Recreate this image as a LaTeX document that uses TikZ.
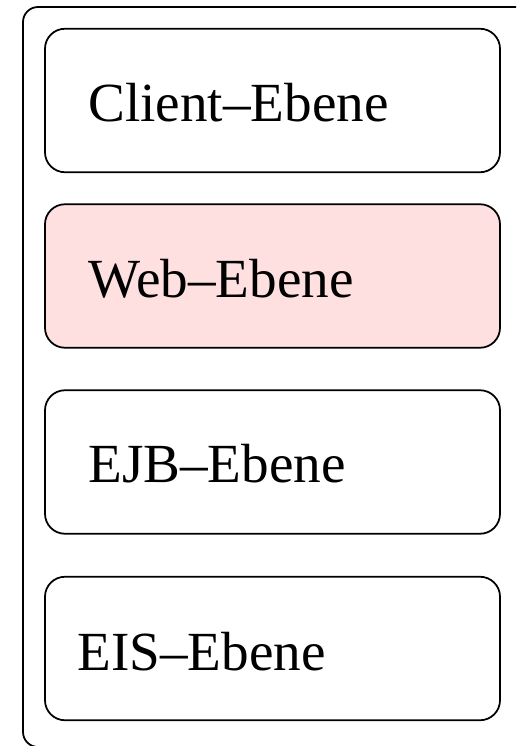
\documentclass[tikz,border=0pt]{standalone}
\usepackage{fontspec}
\setmainfont{Liberation Serif}
\definecolor{webrosa}{RGB}{255,224,224}
\tikzset{
  ebene/.style={draw=black, line width=1pt, rounded corners=0.4cm, minimum width=91mm, minimum height=28.7mm, inner sep=0pt},
  ebenetext/.style={anchor=base west, inner sep=0pt, font=\fontsize{31.4}{36}\selectfont}
}
\begin{document}
\begin{tikzpicture}[x=0.2mm, y=-0.2mm]
    % Rahmen des Bildes
    \useasboundingbox (0,0) rectangle (516,746);
    \begin{scope}
      \clip (0,0) rectangle (516,746);
      % aeusserer Kasten (rechts abgeschnitten)
      \draw[line width=1pt, rounded corners=0.3cm] (23,7) rectangle (560,747);
    \end{scope}

    % 1. Client-Ebene
    \node[ebene] (client) at (272.5,100.5) {};
    \node[ebenetext] (clienttext) at (88,122) {Client--Ebene};

    % 2. Web-Ebene (hervorgehoben)
    \node[ebene, fill=webrosa] (web) at (272.5,276) {};
    \node[ebenetext] (webtext) at (88,297) {Web--Ebene};

    % 3. EJB-Ebene
    \node[ebene] (ejb) at (272.5,462) {};
    \node[ebenetext] (ejbtext) at (88,482) {EJB--Ebene};

    % 4. EIS-Ebene
    \node[ebene] (eis) at (272.5,648.5) {};
    \node[ebenetext] (eistext) at (77,670) {EIS--Ebene};
  \end{tikzpicture}
\end{document}
